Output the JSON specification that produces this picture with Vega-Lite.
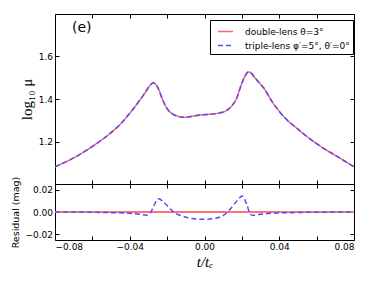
{
  "$schema": "https://vega.github.io/schema/vega-lite/v6.json",
  "background": "white",
  "padding": {"left": 10, "top": 13, "right": 19, "bottom": 5},
  "spacing": 0,
  "bounds": "flush",
  "config": {
    "view": {"stroke": "black", "strokeWidth": 1},
    "axis": {"labelFont": "DejaVu Sans", "labelFontSize": 9, "labelColor": "black", "tickColor": "black", "grid": false, "domain": false, "tickSize": -4, "labelPadding": 6.5, "titleColor": "black", "titleFontWeight": "normal"},
    "legend": {"orient": "none", "legendX": 155, "legendY": 6, "strokeColor": "black", "strokeWidth": 1, "fillColor": "white", "padding": 3, "symbolOffset": 4, "rowPadding": 0, "labelOffset": 11, "labelFont": "DejaVu Sans", "labelFontSize": 9, "labelColor": "black", "symbolType": "stroke", "symbolSize": 225, "symbolStrokeWidth": 1.5, "title": null}
  },
  "datasets": {
    "curve": [
      {"t": -0.08, "double": 1.081, "triple": 1.081},
      {"t": -0.07, "double": 1.123, "triple": 1.123},
      {"t": -0.06, "double": 1.177, "triple": 1.177},
      {"t": -0.05, "double": 1.242, "triple": 1.242},
      {"t": -0.045, "double": 1.282, "triple": 1.282},
      {"t": -0.04, "double": 1.333, "triple": 1.333},
      {"t": -0.035, "double": 1.39, "triple": 1.39},
      {"t": -0.032, "double": 1.427, "triple": 1.427},
      {"t": -0.03, "double": 1.454, "triple": 1.454},
      {"t": -0.0285, "double": 1.47, "triple": 1.47},
      {"t": -0.0275, "double": 1.476, "triple": 1.476},
      {"t": -0.026, "double": 1.468, "triple": 1.468},
      {"t": -0.0245, "double": 1.445, "triple": 1.445},
      {"t": -0.023, "double": 1.41, "triple": 1.41},
      {"t": -0.021, "double": 1.37, "triple": 1.37},
      {"t": -0.019, "double": 1.343, "triple": 1.343},
      {"t": -0.0166, "double": 1.327, "triple": 1.327},
      {"t": -0.014, "double": 1.318, "triple": 1.318},
      {"t": -0.011, "double": 1.314, "triple": 1.314},
      {"t": -0.007, "double": 1.318, "triple": 1.318},
      {"t": -0.003, "double": 1.324, "triple": 1.324},
      {"t": 0.001, "double": 1.327, "triple": 1.327},
      {"t": 0.005, "double": 1.33, "triple": 1.33},
      {"t": 0.0084, "double": 1.335, "triple": 1.335},
      {"t": 0.011, "double": 1.342, "triple": 1.342},
      {"t": 0.0128, "double": 1.352, "triple": 1.352},
      {"t": 0.015, "double": 1.372, "triple": 1.372},
      {"t": 0.0173, "double": 1.406, "triple": 1.406},
      {"t": 0.0195, "double": 1.462, "triple": 1.462},
      {"t": 0.0215, "double": 1.505, "triple": 1.505},
      {"t": 0.0235, "double": 1.527, "triple": 1.527},
      {"t": 0.025, "double": 1.522, "triple": 1.522},
      {"t": 0.0265, "double": 1.505, "triple": 1.505},
      {"t": 0.029, "double": 1.48, "triple": 1.48},
      {"t": 0.0315, "double": 1.454, "triple": 1.454},
      {"t": 0.0369, "double": 1.378, "triple": 1.378},
      {"t": 0.044, "double": 1.303, "triple": 1.303},
      {"t": 0.05, "double": 1.258, "triple": 1.258},
      {"t": 0.0547, "double": 1.224, "triple": 1.224},
      {"t": 0.06, "double": 1.19, "triple": 1.19},
      {"t": 0.0637, "double": 1.168, "triple": 1.168},
      {"t": 0.07, "double": 1.135, "triple": 1.135},
      {"t": 0.0726, "double": 1.121, "triple": 1.121},
      {"t": 0.08, "double": 1.081, "triple": 1.081}
    ],
    "resid": [
      {"t": -0.08, "double": 0, "triple": 0.0},
      {"t": -0.07, "double": 0, "triple": 0.0},
      {"t": -0.06, "double": 0, "triple": -0.0002},
      {"t": -0.05, "double": 0, "triple": -0.0006},
      {"t": -0.04, "double": 0, "triple": -0.0012},
      {"t": -0.035, "double": 0, "triple": -0.002},
      {"t": -0.031, "double": 0, "triple": -0.0028},
      {"t": -0.029, "double": 0, "triple": -0.001},
      {"t": -0.027, "double": 0, "triple": 0.006},
      {"t": -0.0245, "double": 0, "triple": 0.0118},
      {"t": -0.022, "double": 0, "triple": 0.009},
      {"t": -0.019, "double": 0, "triple": 0.004},
      {"t": -0.0166, "double": 0, "triple": 0.0},
      {"t": -0.012, "double": 0, "triple": -0.0036},
      {"t": -0.0067, "double": 0, "triple": -0.0058},
      {"t": -0.0005, "double": 0, "triple": -0.0065},
      {"t": 0.0057, "double": 0, "triple": -0.0056},
      {"t": 0.011, "double": 0, "triple": -0.002},
      {"t": 0.0137, "double": 0, "triple": 0.0024},
      {"t": 0.0173, "double": 0, "triple": 0.0098},
      {"t": 0.0203, "double": 0, "triple": 0.0142},
      {"t": 0.0226, "double": 0, "triple": 0.0068},
      {"t": 0.0245, "double": 0, "triple": -0.002},
      {"t": 0.026, "double": 0, "triple": -0.003},
      {"t": 0.029, "double": 0, "triple": -0.0022},
      {"t": 0.035, "double": 0, "triple": -0.0012},
      {"t": 0.045, "double": 0, "triple": -0.0006},
      {"t": 0.055, "double": 0, "triple": -0.0003},
      {"t": 0.08, "double": 0, "triple": 0.0}
    ],
    "label": [{"t": -0.0709, "v": 1.734, "text": "(e)"}]
  },
  "vconcat": [
    {
      "width": 299,
      "height": 170,
      "resolve": {"axis": {"x": "independent", "y": "independent"}},
      "layer": [
        {
          "data": {"name": "curve"},
          "transform": [{"fold": ["double", "triple"], "as": ["model", "v"]}],
          "mark": {"type": "line", "strokeWidth": 1.5, "interpolate": "monotone", "clip": true},
          "encoding": {
            "x": {"field": "t", "type": "quantitative", "scale": {"domain": [-0.08, 0.08], "nice": false, "zero": false},
                  "axis": {"orient": "bottom", "values": [-0.08, -0.06, -0.04, -0.02, 0, 0.02, 0.04, 0.06, 0.08], "labels": false, "title": null}},
            "y": {"field": "v", "type": "quantitative", "scale": {"domain": [1.0, 1.8], "nice": false, "zero": false},
                  "axis": {"orient": "left", "values": [1.2, 1.4, 1.6], "format": ".1f", "title": "log₁₀ μ", "titleFont": "Liberation Serif", "titleFontSize": 15, "titlePadding": 4}},
            "color": {"field": "model", "type": "nominal", "scale": {"domain": ["double", "triple"], "range": ["#ff6666", "#4d4dff"]},
                      "legend": {"labelExpr": "datum.label == 'double' ? 'double-lens θ=3°' : 'triple-lens φ′=5°, θ′=0°'"}},
            "strokeDash": {"field": "model", "type": "nominal", "scale": {"domain": ["double", "triple"], "range": [[1, 0], [5, 3]]},
                      "legend": {"labelExpr": "datum.label == 'double' ? 'double-lens θ=3°' : 'triple-lens φ′=5°, θ′=0°'"}}
          }
        },
        {
          "data": {"name": "label"},
          "mark": {"type": "text", "align": "left", "baseline": "middle", "font": "DejaVu Sans", "fontSize": 14, "color": "black"},
          "encoding": {
            "x": {"field": "t", "type": "quantitative", "scale": {"domain": [-0.08, 0.08], "nice": false, "zero": false},
                  "axis": {"orient": "top", "values": [-0.08, -0.06, -0.04, -0.02, 0, 0.02, 0.04, 0.06, 0.08], "labels": false, "title": null}},
            "y": {"field": "v", "type": "quantitative", "scale": {"domain": [1.0, 1.8], "nice": false, "zero": false},
                  "axis": {"orient": "right", "values": [1.2, 1.4, 1.6], "labels": false, "title": null}},
            "text": {"field": "text"}
          }
        }
      ]
    },
    {
      "width": 299,
      "height": 56,
      "data": {"name": "resid"},
      "resolve": {"axis": {"x": "independent", "y": "independent"}},
      "layer": [
        {
          "mark": {"type": "line", "strokeWidth": 2, "color": "#ff7373", "clip": true},
          "encoding": {
            "x": {"field": "t", "type": "quantitative", "scale": {"domain": [-0.08, 0.08], "nice": false, "zero": false},
                  "axis": {"orient": "bottom", "values": [-0.08, -0.06, -0.04, -0.02, 0, 0.02, 0.04, 0.06, 0.08], "format": ".2f", "labelExpr": "round(datum.value*100) % 4 == 0 ? datum.label : ''", "labelPadding": 6, "title": "t/tₑ", "titleFont": "Liberation Serif", "titleFontStyle": "italic", "titleFontSize": 15, "titlePadding": 3}},
            "y": {"field": "double", "type": "quantitative", "scale": {"domain": [-0.025, 0.025], "nice": false, "zero": false},
                  "axis": {"orient": "left", "values": [-0.02, 0, 0.02], "format": ".2f", "title": "Residual (mag)", "titleFont": "DejaVu Sans", "titleFontSize": 9.5, "titlePadding": 4}}
          }
        },
        {
          "mark": {"type": "line", "strokeWidth": 1.5, "color": "#4d4dff", "strokeDash": [5, 3], "interpolate": "monotone", "clip": true},
          "encoding": {
            "x": {"field": "t", "type": "quantitative", "scale": {"domain": [-0.08, 0.08], "nice": false, "zero": false},
                  "axis": {"orient": "top", "values": [-0.08, -0.06, -0.04, -0.02, 0, 0.02, 0.04, 0.06, 0.08], "labels": false, "title": null}},
            "y": {"field": "triple", "type": "quantitative", "scale": {"domain": [-0.025, 0.025], "nice": false, "zero": false},
                  "axis": {"orient": "right", "values": [-0.02, 0, 0.02], "labels": false, "title": null}}
          }
        }
      ]
    }
  ]
}
